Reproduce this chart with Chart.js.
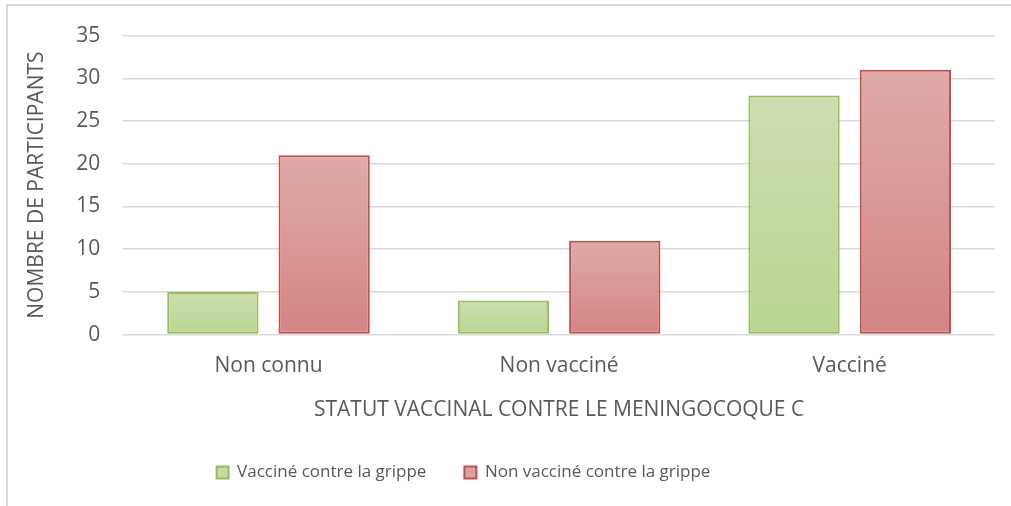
<!DOCTYPE html>
<html>
<head>
<meta charset="utf-8">
<script src="https://cdn.jsdelivr.net/npm/chart.js@4/dist/chart.umd.min.js"></script>
<style>
html,body{margin:0;padding:0;background:#fff;}
#frame{position:absolute;left:6px;top:4px;width:1005px;height:502px;border-left:2px solid #d9d9d9;border-top:2px solid #d9d9d9;box-sizing:border-box;}
#wrap{position:absolute;left:0;top:0;width:1011px;height:506px;}
</style>
</head>
<body>
<div id="frame"></div>
<div id="wrap"><canvas id="c" width="1011" height="506"></canvas></div>
<script>
const categories = ["Non connu", "Non vacciné", "Vacciné"];
const vaccinesGrippe = [5, 4, 28];
const nonVaccinesGrippe = [21, 11, 31];
const seriesNames = ["Vacciné contre la grippe", "Non vacciné contre la grippe"];
const xTitle = "STATUT VACCINAL CONTRE LE MENINGOCOQUE C";
const yTitle = "NOMBRE DE PARTICIPANTS";

const FONT = "'Open Sans', sans-serif";
const GRAY = "#595959";
const LEGEND_SHIFT = -38;

function barGradient(topCol, botCol){
  return function(context){
    const chart = context.chart;
    if (!chart.chartArea || context.type !== 'data') return botCol;
    const y = chart.scales.y;
    const top = y.getPixelForValue(context.raw);
    const base = y.getPixelForValue(0);
    if (!isFinite(top) || !isFinite(base) || top === base) return botCol;
    const g = chart.ctx.createLinearGradient(0, top, 0, base);
    g.addColorStop(0, topCol);
    g.addColorStop(1, botCol);
    return g;
  };
}

const legendShift = {
  id: 'legendShift',
  afterLayout(chart){
    const l = chart.legend;
    if (!l) return;
    l.left += LEGEND_SHIFT;
    l.right += LEGEND_SHIFT;
  }
};

new Chart(document.getElementById('c'), {
  type: 'bar',
  data: {
    labels: categories,
    datasets: [
      {
        label: seriesNames[0],
        data: vaccinesGrippe,
        backgroundColor: barGradient('#cddcb0', '#bad590'),
        borderColor: '#9bbb59',
        borderWidth: 2,
        borderSkipped: false,
        categoryPercentage: 0.766,
        barPercentage: 0.82
      },
      {
        label: seriesNames[1],
        data: nonVaccinesGrippe,
        backgroundColor: barGradient('#dfaaaa', '#d48484'),
        borderColor: '#c0504d',
        borderWidth: 2,
        borderSkipped: false,
        categoryPercentage: 0.766,
        barPercentage: 0.82
      }
    ]
  },
  plugins: [legendShift],
  options: {
    responsive: false,
    animation: false,
    layout: { padding: { left: 8, right: 16, top: 30, bottom: 15 } },
    plugins: {
      tooltip: { enabled: false },
      legend: {
        position: 'bottom',
        labels: {
          font: { family: FONT, size: 17 },
          color: GRAY,
          boxWidth: 12,
          boxHeight: 12,
          padding: 38,
          generateLabels(chart){
            return chart.data.datasets.map((ds, i) => ({
              text: ds.label,
              fillStyle: i === 0 ? '#c6daa4' : '#dba2a2',
              strokeStyle: ds.borderColor,
              lineWidth: 2,
              fontColor: GRAY,
              datasetIndex: i,
              hidden: false
            }));
          }
        }
      }
    },
    scales: {
      x: {
        grid: { display: false, drawTicks: false },
        border: { display: false },
        ticks: { font: { family: FONT, size: 21 }, color: GRAY, padding: 19 },
        title: { display: true, text: xTitle, font: { family: FONT, size: 21 }, color: GRAY, padding: { top: 0, bottom: 3 } }
      },
      y: {
        min: 0, max: 35,
        ticks: { stepSize: 5, font: { family: FONT, size: 21 }, color: GRAY, padding: 23 },
        grid: { color: '#d9d9d9', lineWidth: 1.5, drawTicks: false },
        border: { display: false },
        title: { display: true, text: yTitle, font: { family: FONT, size: 21 }, color: GRAY, padding: { top: 16, bottom: 4 } }
      }
    }
  }
});
</script>
</body>
</html>
